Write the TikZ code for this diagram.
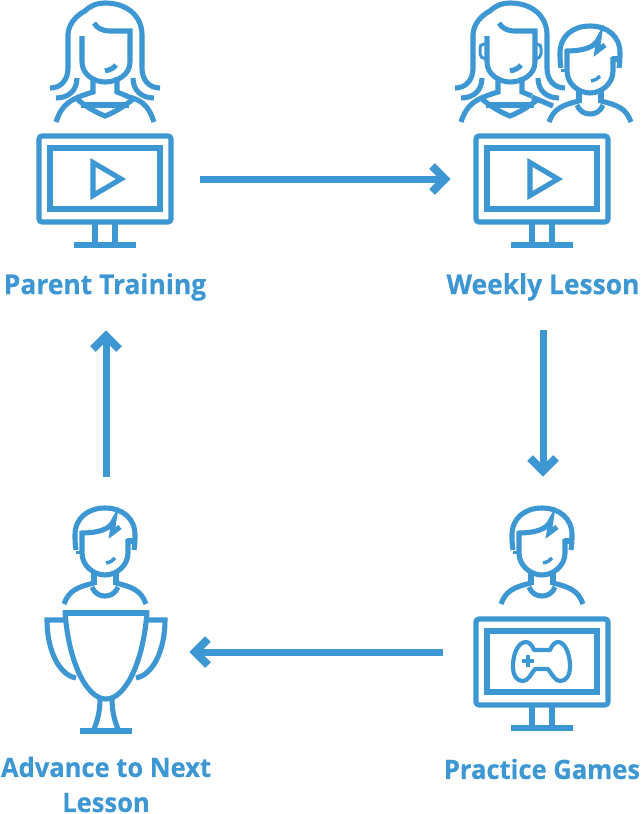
\documentclass[tikz,border=0pt]{standalone}
\usepackage{fontspec}
\setmainfont{Open Sans}[BoldFeatures={FakeStretch=0.96,FakeBold=0.3}]
\definecolor{iconblue}{HTML}{3D97D3}
\tikzset{
  x=1pt,y=-1pt,
  ln/.style={draw=iconblue,line width=5.1pt,line join=miter,fill=none},
  thin ln/.style={draw=iconblue,line width=4.2pt,fill=none},
  flow/.style={draw=iconblue,line width=7pt},
  head/.style={draw=iconblue,line width=8pt,fill=none,line join=miter},
  lab/.style={text=iconblue,font=\bfseries\fontsize{27.5}{35}\selectfont,align=center,inner sep=0pt},
  lab small/.style={lab,font=\bfseries\fontsize{26.6}{35}\selectfont},
  woman/.pic={
    \draw[ln] (-55,88) .. controls (-44,88) and (-37,80) .. (-37,68) -- (-37,35) .. controls (-37,24) and (-28,15) .. (-20,11) .. controls (-14,5) and (-7,3) .. (0,3) .. controls (22,3) and (37,16) .. (37,35) -- (37,68) .. controls (37,80) and (44,88) .. (55,88);
    \draw[ln] (-49,98) .. controls (-36,98) and (-28,90) .. (-28,78);
    \draw[ln] (49,98) .. controls (36,98) and (28,90) .. (28,78);
    \draw[ln] (-23,36) -- (-23,62) .. controls (-23,75) and (-10,82) .. (0,82) .. controls (12,82) and (25,75) .. (25,62) -- (25,31) -- (5,31) .. controls (-3,31) and (-8,28) .. (-11,23);
    \draw[ln] (0,71) .. controls (5,70) and (9,68) .. (11,65);
    \draw[ln] (-12,77) -- (-12,92) .. controls (-35,99) and (-43,104) .. (-49,122);
    \draw[ln] (12,77) -- (12,92) -- (22,96);
    \draw[ln] (-28,99) .. controls (-20,106) and (-10,112) .. (0,116) .. controls (10,112) and (20,106) .. (28,99);
    \draw[ln] (-24,105) -- (24,105);
  },
  wshoulder/.pic={\draw[ln] (21,96) .. controls (36,100) and (43,104) .. (49,122);},
  boy/.pic={
    \draw[ln] (-29,50) .. controls (-30,44) and (-30,39) .. (-30,35) .. controls (-30,18) and (-17,8) .. (0,8) .. controls (17,8) and (30,18) .. (30,35) .. controls (30,39) and (30,44) .. (29,50);
    \draw[ln] (-23,31) -- (-23,53) .. controls (-23,66) and (-11,75) .. (0,75) .. controls (11,75) and (23,66) .. (23,53) -- (23,39);
    \draw[ln] (-24,33) .. controls (-8,33) and (5,30) .. (9,20) -- (7,33) -- (15,27);
    \draw[ln,line width=6pt] (22,41) -- (29,41);
    \draw[ln,line width=3pt] (-29,52) -- (-23,52);
    \draw[ln,line width=3.5pt] (1,63) .. controls (5,62) and (8,61) .. (10,58);
    \draw[ln] (-11,72) -- (-11,85);
    \draw[ln] (11,72) -- (11,85);
    \draw[ln] (-11,83) .. controls (-27,87) and (-36,90) .. (-41,104);
    \draw[ln] (11,83) .. controls (27,87) and (36,90) .. (41,104);
    \draw[ln] (-13,87) .. controls (-10,94) and (-5,96) .. (0,96) .. controls (5,96) and (10,94) .. (13,87);
  },
  monitor/.pic={
    \draw[ln,rounded corners=3pt] (-66,136) rectangle (66,222);
    \draw[ln] (-55,148) rectangle (55,209);
    \draw[ln] (-10,222) -- (-10,245);
    \draw[ln] (10,222) -- (10,245);
    \draw[ln] (-31,245) -- (31,245);
  },
  playmark/.pic={\draw[ln] (-12,162.5) -- (16,179) -- (-12,195.5) -- cycle;},
  trophy/.pic={
    \draw[ln] (-43,613) -- (43,613);
    \draw[ln] (-41,611) .. controls (-38,660) and (-20,699) .. (0,699) .. controls (20,699) and (38,660) .. (41,611);
    \draw[ln] (-41,620) -- (-59,620) .. controls (-59,650) and (-47,675) .. (-30,678);
    \draw[ln] (41,620) -- (59,620) .. controls (59,650) and (47,675) .. (30,678);
    \draw[ln] (-6,699) .. controls (-6,712) and (-9,722) .. (-12,729);
    \draw[ln] (6,699) .. controls (6,712) and (9,722) .. (12,729);
    \draw[ln] (-26,731) -- (26,731);
  },
}
\begin{document}
\begin{tikzpicture}
\useasboundingbox (0,0) rectangle (642,814);
% top left
\pic at (105,0) {woman};
\pic at (105,0) {wshoulder};
\pic at (105,0) {monitor};
\pic at (105,0) {playmark};
% top right
\pic at (510,0) {woman};
\draw[ln] (532,97) -- (553,106);
\draw[ln,line width=3pt] (487,44) -- (484,44) .. controls (481,44) and (480,46) .. (480,48) -- (480,54) .. controls (480,57) and (482,58) .. (487,59);
\draw[ln,line width=3pt] (535,44) -- (537,44) .. controls (540,44) and (541,46) .. (541,48) -- (541,54) .. controls (541,57) and (539,58) .. (535,59);
\pic at (590,18) {boy};
\pic at (542,0) {monitor};
\pic at (542,0) {playmark};
% bottom right
\pic at (542,500) {boy};
\pic at (542,483) {monitor};
\draw[thin ln,line join=round] (534,650) -- (550,650) .. controls (552,645) and (555,642) .. (558,642) .. controls (565,642) and (570,654) .. (570,666) .. controls (570,676) and (566,681) .. (560,681) .. controls (555,681) and (552,674) .. (548,669) -- (535,669) .. controls (531,674) and (528,681) .. (523,681) .. controls (517,681) and (513,676) .. (513,666) .. controls (513,654) and (518,642) .. (526,642) .. controls (529,642) and (532,645) .. (534,650) -- cycle;
\draw[thin ln] (522,661) -- (534,661);
\draw[thin ln] (528,655) -- (528,667);
% bottom left
\pic at (105,500) {boy};
\pic at (106,0) {trophy};
% arrows
\coordinate (a1s) at (200,179); \coordinate (a1e) at (445,179);
\draw[flow] (a1s) -- (a1e);
\draw[head] (432,166) -- (445,179) -- (432,192);
\coordinate (a2s) at (543,330); \coordinate (a2e) at (543,471);
\draw[flow] (a2s) -- (a2e);
\draw[head] (530,458) -- (543,471) -- (556,458);
\coordinate (a3s) at (443,652); \coordinate (a3e) at (195,652);
\draw[flow] (a3s) -- (a3e);
\draw[head] (208,639) -- (195,652) -- (208,665);
\coordinate (a4s) at (106,477); \coordinate (a4e) at (106,336);
\draw[flow] (a4s) -- (a4e);
\draw[head] (93,349) -- (106,336) -- (119,349);
% labels
\node[lab] (l1) at (105,287) {Parent Training};
\node[lab] (l2) at (543,287) {Weekly Lesson};
\node[lab small] (l3) at (542,769) {Practice Games};
\node[lab small] (l4) at (106,784.5) {Advance to Next\\Lesson};
\end{tikzpicture}
\end{document}
